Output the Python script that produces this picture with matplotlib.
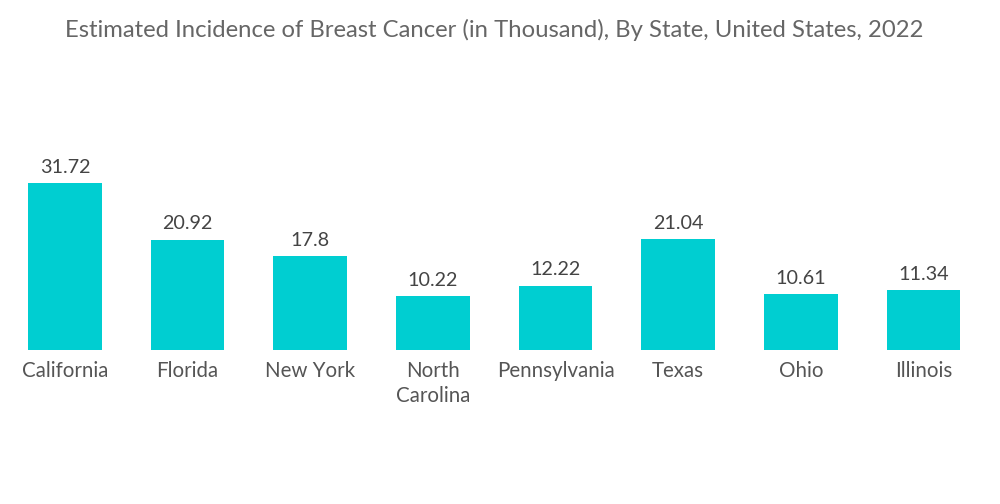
import matplotlib.pyplot as plt
import numpy as np

plt.rcParams['font.family'] = ['Lato', 'DejaVu Sans']

#data
states = ['California', 'Florida', 'New York', 'North\nCarolina', 'Pennsylvania', 'Texas', 'Ohio', 'Illinois']
values = [31.72, 20.92, 17.8, 10.22, 12.22, 21.04, 10.61, 11.34]
labels = ['31.72', '20.92', '17.8', '10.22', '12.22', '21.04', '10.61', '11.34']

fig = plt.figure(figsize=(10, 5.04), dpi=100)
ax = fig.add_axes([0.0037, 0.3056, 0.981, 0.4178])

x = np.arange(len(states))
bars = ax.bar(x, values, width=0.6, color='#00CED1')

#value labels above bars
for xi, v, lab in zip(x, values, labels):
    ax.text(xi, v + 1.4, lab, ha='center', va='bottom', fontsize=14.2, color='#444444')

ax.set_xlim(-0.5, len(states) - 0.5)
ax.set_ylim(0, 40)
ax.set_xticks(x)
ax.set_xticklabels(states, fontsize=14.8, color='#555555', linespacing=1.3)
ax.tick_params(axis='x', length=0, pad=8)
ax.set_yticks([])
for s in ax.spines.values():
    s.set_visible(False)

fig.text(0.494, 0.94, 'Estimated Incidence of Breast Cancer (in Thousand), By State, United States, 2022',
         ha='center', va='center', fontsize=17.2, color='#666666')

fig.savefig('out.png', dpi=100)
